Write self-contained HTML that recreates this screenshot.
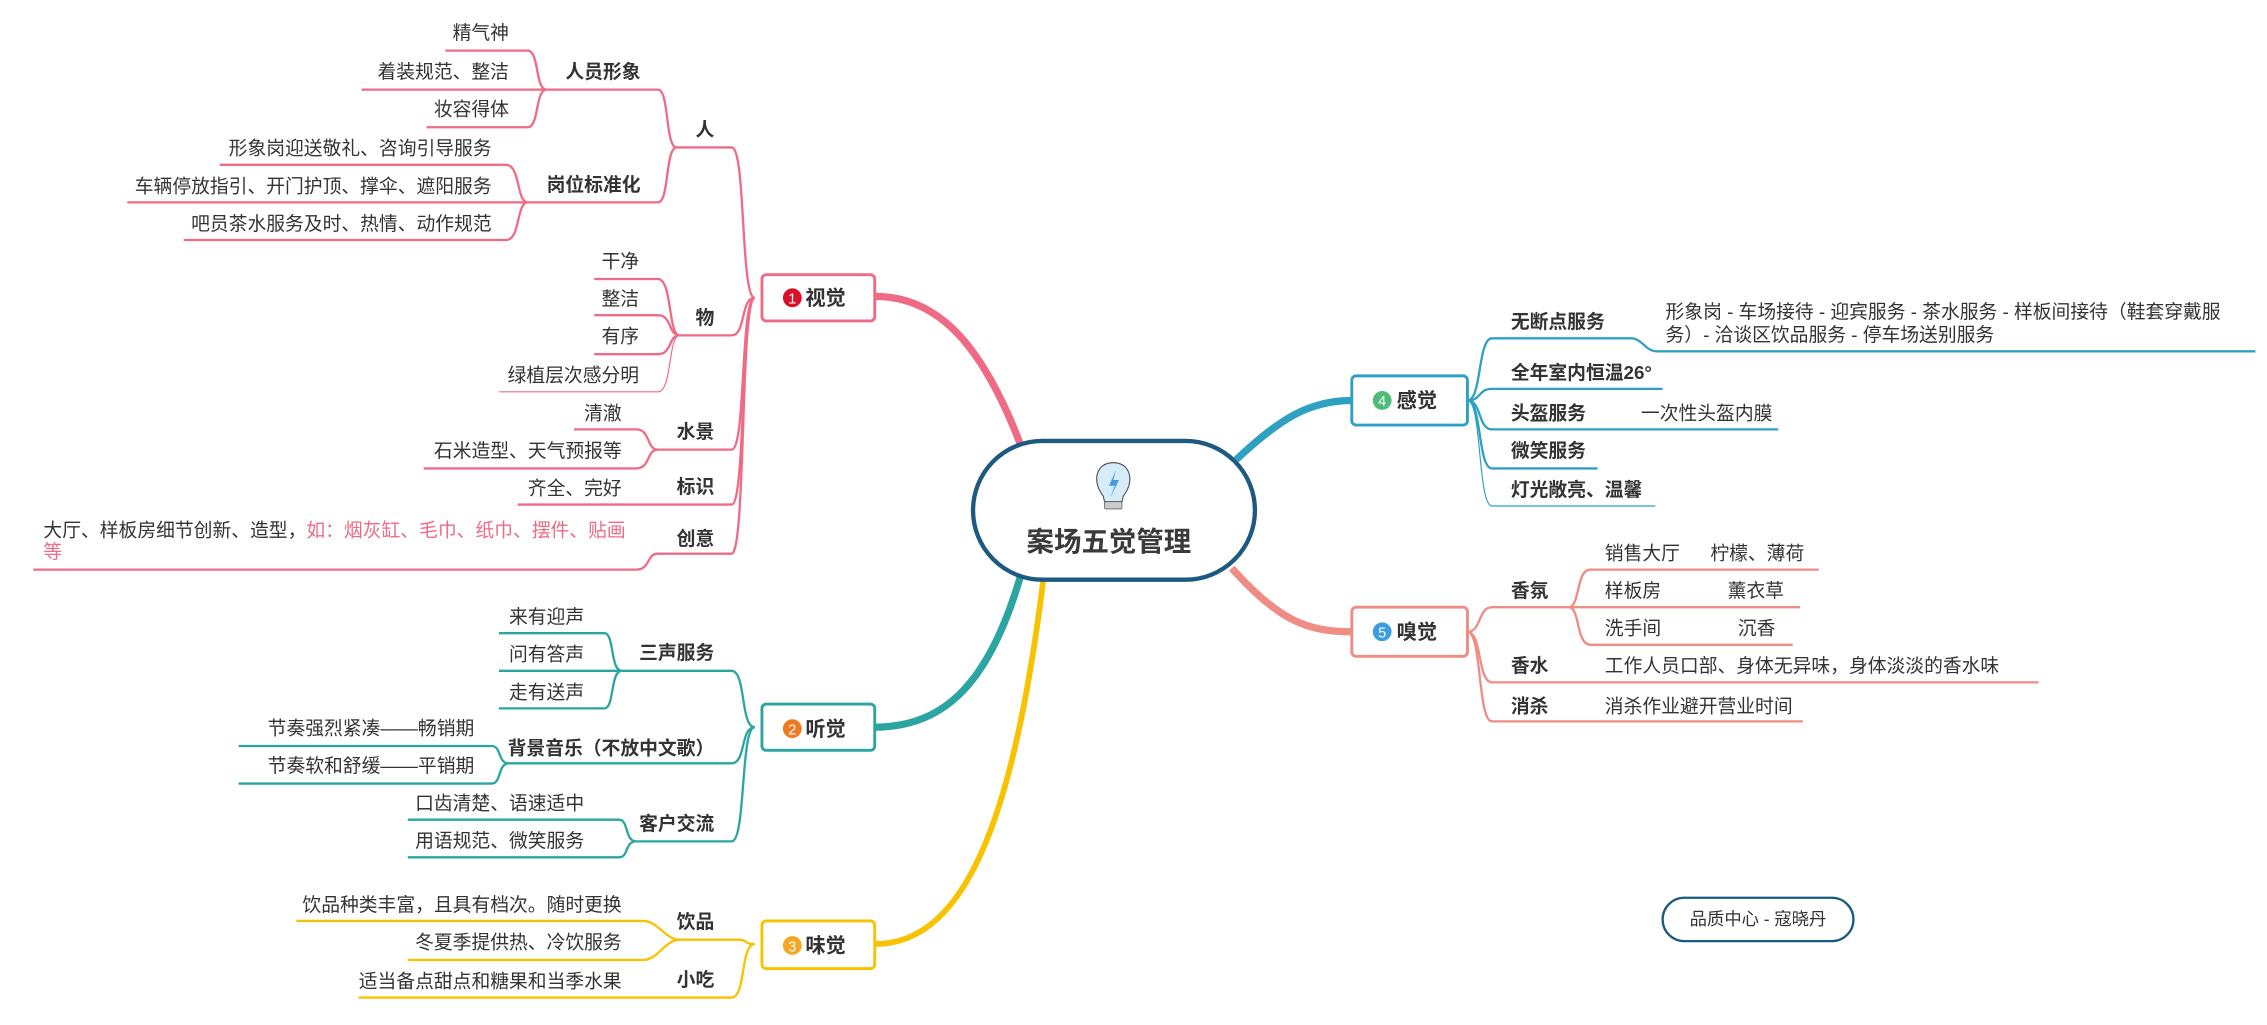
<!DOCTYPE html>
<html><head><meta charset="utf-8">
<style>
html,body{margin:0;padding:0;background:#fff;}
svg{display:block;}
text{font-family:"Liberation Sans","Noto Sans CJK SC",sans-serif;fill:#333;font-size:13px;}
.b{font-weight:bold;}
.e{text-anchor:end;}
.pk{fill:none;stroke:#ef6b85;stroke-width:1.6;}
.tl{fill:none;stroke:#2aa5a1;stroke-width:1.6;}
.yl{fill:none;stroke:#f9c200;stroke-width:1.6;}
.bl{fill:none;stroke:#2ea0c2;stroke-width:1.6;}
.sm{fill:none;stroke:#ef8c84;stroke-width:1.6;}
</style></head><body>
<svg width="2267" height="1025" viewBox="0 0 1568 709" xmlns="http://www.w3.org/2000/svg">
<rect width="1568" height="709" fill="#fff"/>
<!-- main connectors -->
<path d="M706 308 C680 240 650 205 605 205" fill="none" stroke="#ef6b85" stroke-width="5"/>
<path d="M706 398 C685 470 655 503 605 503" fill="none" stroke="#2aa5a1" stroke-width="5"/>
<path d="M722 398 C702 560 670 653 605 653" fill="none" stroke="#f9c200" stroke-width="4"/>
<path d="M855 318 C885 290 905 277 935 277" fill="none" stroke="#2ea0c2" stroke-width="5"/>
<path d="M852 393 C885 430 905 437 935 437" fill="none" stroke="#ef8c84" stroke-width="5"/>

<!-- 视觉 branch -->
<g class="pk">
<path d="M522 206 C512 206 516 102 506 102 L468 102"/>
<path d="M468 102 C460 102 463 62 455 62 L378 62"/>
<path d="M468 102 C460 102 463 140 455 140 L365 140"/>
<path d="M378 62 C370 62 373 35 365 35 L308 35"/>
<path d="M378 62 L250 62"/>
<path d="M378 62 C370 62 373 88 365 88 L295 88"/>
<path d="M365 140 C357 140 360 114 350 114 L152 114"/>
<path d="M365 140 L88 140"/>
<path d="M365 140 C357 140 360 166 350 166 L127 166"/>
<path d="M522 206 C512 206 516 232 506 232 L470 232"/>
<path d="M470 232 C462 232 465 193 455 193 L411 193"/>
<path d="M470 232 C462 232 465 218 455 218 L411 218"/>
<path d="M470 232 C462 232 465 245 455 245 L411 245"/>
<path d="M470 232 C462 232 465 271 455 271 L345 271" stroke-width="0.8"/>
<path d="M522 206 C512 206 516 311 506 311 L455 311"/>
<path d="M455 311 C447 311 450 297 440 297 L397 297"/>
<path d="M455 311 C447 311 450 324 440 324 L293 324"/>
<path d="M522 206 C512 206 516 349 506 349 L358 349"/>
<path d="M522 206 C512 206 516 383 506 383 L455 383 C447 383 450 394 440 394 L23 394"/>
</g>
<text class="b e" x="494" y="94">人</text>
<text class="b e" x="443" y="54">人员形象</text>
<text class="e" x="352" y="27">精气神</text>
<text class="e" x="352" y="54">着装规范、整洁</text>
<text class="e" x="352" y="80">妆容得体</text>
<text class="b e" x="443" y="132">岗位标准化</text>
<text class="e" x="340" y="107">形象岗迎送敬礼、咨询引导服务</text>
<text class="e" x="340" y="133">车辆停放指引、开门护顶、撑伞、遮阳服务</text>
<text class="e" x="340" y="159">吧员茶水服务及时、热情、动作规范</text>
<text class="b e" x="494" y="224">物</text>
<text class="e" x="442" y="185">干净</text>
<text class="e" x="442" y="211">整洁</text>
<text class="e" x="442" y="237">有序</text>
<text class="e" x="442" y="264">绿植层次感分明</text>
<text class="b e" x="494" y="303">水景</text>
<text class="e" x="430" y="290">清澈</text>
<text class="e" x="430" y="316">石米造型、天气预报等</text>
<text class="b e" x="494" y="341">标识</text>
<text class="e" x="430" y="342">齐全、完好</text>
<text class="b e" x="494" y="377">创意</text>
<text x="30" y="371">大厅、样板房细节创新、造型，<tspan fill="#ef6b85">如：烟灰缸、毛巾、纸巾、摆件、贴画</tspan></text>
<text x="30" y="386" fill="#ef6b85" style="fill:#ef6b85">等</text>

<!-- 听觉 branch -->
<g class="tl">
<path d="M522 503 C512 503 516 464 506 464 L430 464"/>
<path d="M430 464 C422 464 425 438 418 438 L345 438"/>
<path d="M430 464 L345 464"/>
<path d="M430 464 C422 464 425 490 418 490 L345 490"/>
<path d="M522 503 C512 503 516 528 506 528 L352 528"/>
<path d="M352 528 C344 528 347 516 340 516 L165 516"/>
<path d="M352 528 C344 528 347 542 340 542 L165 542"/>
<path d="M522 503 C512 503 516 582 506 582 L440 582"/>
<path d="M440 582 C432 582 435 567 428 567 L282 567"/>
<path d="M440 582 C432 582 435 593 428 593 L282 593"/>
</g>
<text class="b e" x="494" y="456">三声服务</text>
<text class="e" x="404" y="431">来有迎声</text>
<text class="e" x="404" y="457">问有答声</text>
<text class="e" x="404" y="483">走有送声</text>
<text class="b e" x="494" y="522">背景音乐（不放中文歌）</text>
<text class="e" x="328" y="508">节奏强烈紧凑——畅销期</text>
<text class="e" x="328" y="534">节奏软和舒缓——平销期</text>
<text class="b e" x="494" y="574">客户交流</text>
<text class="e" x="404" y="560">口齿清楚、语速适中</text>
<text class="e" x="404" y="586">用语规范、微笑服务</text>

<!-- 味觉 branch -->
<g class="yl">
<path d="M522 653 C514 653 518 650 510 650 L470 650"/>
<path d="M470 650 C460 650 455 637 445 637 L205 637"/>
<path d="M470 650 C460 650 455 664 445 664 L282 664"/>
<path d="M522 653 C512 653 516 690 506 690 L248 690"/>
</g>
<text class="b e" x="494" y="642">饮品</text>
<text class="e" x="430" y="630">饮品种类丰富，且具有档次。随时更换</text>
<text class="e" x="430" y="656">冬夏季提供热、冷饮服务</text>
<text class="b e" x="494" y="682">小吃</text>
<text class="e" x="430" y="683">适当备点甜点和糖果和当季水果</text>

<!-- 感觉 branch -->
<g class="bl">
<path d="M1015 277 C1025 277 1022 234 1032 234 L1128 234 C1136 234 1138 243 1146 243 L1560 243"/>
<path d="M1015 277 C1025 277 1022 269 1032 269 L1150 269"/>
<path d="M1015 277 C1025 277 1022 297 1032 297 L1230 297"/>
<path d="M1015 277 C1025 277 1022 324 1032 324 L1105 324"/>
<path d="M1015 277 C1025 277 1022 350 1032 350 L1145 350" stroke-width="0.8"/>
</g>
<text class="b" x="1045" y="227">无断点服务</text>
<text x="1152" y="220">形象岗 - 车场接待 - 迎宾服务 - 茶水服务 - 样板间接待（鞋套穿戴服</text>
<text x="1152" y="236">务）- 洽谈区饮品服务 - 停车场送别服务</text>
<text class="b" x="1045" y="262">全年室内恒温26°</text>
<text class="b" x="1045" y="290">头盔服务</text>
<text x="1135" y="290">一次性头盔内膜</text>
<text class="b" x="1045" y="316">微笑服务</text>
<text class="b" x="1045" y="343">灯光敞亮、温馨</text>

<!-- 嗅觉 branch -->
<g class="sm">
<path d="M1015 437 C1025 437 1022 420 1032 420 L1085 420"/>
<path d="M1085 420 C1093 420 1090 394 1100 394 L1258 394"/>
<path d="M1085 420 L1245 420"/>
<path d="M1085 420 C1093 420 1090 446 1100 446 L1240 446"/>
<path d="M1015 437 C1025 437 1022 472 1032 472 L1410 472"/>
<path d="M1015 437 C1025 437 1022 499 1032 499 L1247 499"/>
</g>
<text class="b" x="1045" y="413">香氛</text>
<text x="1110" y="387">销售大厅</text><text x="1183" y="387">柠檬、薄荷</text>
<text x="1110" y="413">样板房</text><text x="1195" y="413">薰衣草</text>
<text x="1110" y="439">洗手间</text><text x="1202" y="439">沉香</text>
<text class="b" x="1045" y="465">香水</text>
<text x="1110" y="465">工作人员口部、身体无异味，身体淡淡的香水味</text>
<text class="b" x="1045" y="493">消杀</text>
<text x="1110" y="493">消杀作业避开营业时间</text>

<!-- branch boxes -->
<rect x="527" y="190" width="78" height="32" rx="3" fill="#fff" stroke="#ef6b85" stroke-width="2"/>
<circle cx="548" cy="206" r="6.5" fill="#d8102a"/><text x="548" y="210" style="fill:#fff;font-size:10px;text-anchor:middle">1</text>
<text class="b" x="557" y="211" style="font-size:14px">视觉</text>

<rect x="527" y="487" width="78" height="32" rx="3" fill="#fff" stroke="#2aa5a1" stroke-width="2"/>
<circle cx="548" cy="504" r="6.5" fill="#f07a22"/><text x="548" y="508" style="fill:#fff;font-size:10px;text-anchor:middle">2</text>
<text class="b" x="557" y="509" style="font-size:14px">听觉</text>

<rect x="527" y="637" width="78" height="33" rx="3" fill="#fff" stroke="#f9c200" stroke-width="2"/>
<circle cx="548" cy="654" r="6.5" fill="#f5a623"/><text x="548" y="658" style="fill:#fff;font-size:10px;text-anchor:middle">3</text>
<text class="b" x="557" y="659" style="font-size:14px">味觉</text>

<rect x="935" y="260" width="80" height="34" rx="3" fill="#fff" stroke="#2ea0c2" stroke-width="2"/>
<circle cx="956" cy="277" r="6.5" fill="#4dbb7a"/><text x="956" y="281" style="fill:#fff;font-size:10px;text-anchor:middle">4</text>
<text class="b" x="966" y="282" style="font-size:14px">感觉</text>

<rect x="935" y="420" width="80" height="34" rx="3" fill="#fff" stroke="#ef8c84" stroke-width="2"/>
<circle cx="956" cy="437" r="6.5" fill="#3a9ee0"/><text x="956" y="441" style="fill:#fff;font-size:10px;text-anchor:middle">5</text>
<text class="b" x="966" y="442" style="font-size:14px">嗅觉</text>

<!-- center -->
<rect x="673" y="305" width="195" height="96" rx="48" fill="#fff" stroke="#1d5a82" stroke-width="3"/>
<path d="M763 343 C755 333 758 320 770 320 C782 320 785 333 777 343 L776 347 L764 347 Z" fill="#d6ecfb" stroke="#555" stroke-width="0.8"/>
<rect x="764" y="347" width="12" height="5" rx="1" fill="#ccc" stroke="#666" stroke-width="0.6"/>
<path d="M772 325 L767 336 L771 336 L768 344 L774 332 L770 332 Z" fill="#4a9ad8"/>
<text class="b" x="767" y="381" style="font-size:19px;text-anchor:middle;fill:#3a3a3a">案场五觉管理</text>

<!-- footer -->
<rect x="1150" y="621" width="132" height="30" rx="15" fill="#fff" stroke="#1d5a82" stroke-width="1.6"/>
<text x="1216" y="640" style="font-size:12px;text-anchor:middle">品质中心 - 寇晓丹</text>
</svg>
</body></html>
